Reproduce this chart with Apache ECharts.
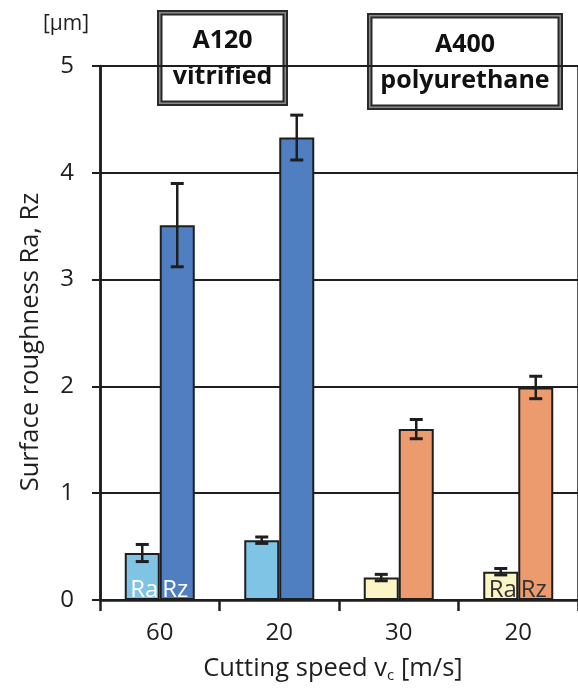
<!DOCTYPE html>
<html>
<head>
<meta charset="utf-8">
<script src="https://cdn.jsdelivr.net/npm/echarts@6/dist/echarts.min.js"></script>
<style>
  html, body { margin: 0; padding: 0; background: #fff; }
  #chart { width: 578px; height: 692px; }
</style>
</head>
<body>
<div id="chart"></div>
<script>
// Cutting speeds for the two grinding wheels
const speeds = ['60', '20', '30', '20'];
const wheels = ['A120\nvitrified', 'A400\npolyurethane'];
const yTicks = [0, 1, 2, 3, 4, 5];

// Surface roughness [µm] with standard deviations
const raValues = [0.44, 0.56, 0.21, 0.265];
const raErrors = [0.08, 0.03, 0.03, 0.03];
const rzValues = [3.51, 4.33, 1.60, 1.99];
const rzErrors = [0.39, 0.21, 0.09, 0.105];

// Colours: first two speeds belong to A120, the other two to A400
const raColors = ['#7fc3e5', '#7fc3e5', '#fbf4c4', '#fbf4c4'];
const rzColors = ['#4f7fc1', '#4f7fc1', '#ec9b6e', '#ec9b6e'];

const FONT = '"Open Sans", sans-serif';
const INK = '#1e1e1e';
const BAR_W = 35;

const chart = echarts.init(document.getElementById('chart'), null, { renderer: 'canvas' });

function barItems(values, colors, labelText, labelColors, align) {
  return values.map((v, i) => {
    const item = { value: v, itemStyle: { color: colors[i] } };
    if (labelColors[i]) {
      item.label = {
        show: true, position: 'insideBottom', distance: 0,
        formatter: labelText, color: labelColors[i],
        fontFamily: FONT, fontSize: 24, offset: [align, 2]
      };
    }
    return item;
  });
}

function errorSeries(values, errors, side) {
  return {
    type: 'custom',
    z: 5,
    data: values.map((v, i) => [i, v - errors[i], v + errors[i]]),
    renderItem: function (params, api) {
      const idx = api.value(0);
      const lo = api.coord([idx, api.value(1)]);
      const hi = api.coord([idx, api.value(2)]);
      const x = lo[0] + side * BAR_W / 2;
      const cap = 6.5;
      const st = { stroke: INK, lineWidth: 2.5 };
      const capSt = { stroke: INK, lineWidth: 3 };
      return {
        type: 'group',
        children: [
          { type: 'line', shape: { x1: x, y1: lo[1], x2: x, y2: hi[1] }, style: st },
          { type: 'line', shape: { x1: x - cap, y1: lo[1], x2: x + cap, y2: lo[1] }, style: capSt },
          { type: 'line', shape: { x1: x - cap, y1: hi[1], x2: x + cap, y2: hi[1] }, style: capSt }
        ]
      };
    }
  };
}

function wheelBox(x, y, w, h, text) {
  return {
    type: 'group', left: x, top: y, z: 20,
    children: [
      { type: 'rect', shape: { x: 0, y: 0, width: w, height: h },
        style: { fill: '#8a8a8a', stroke: '#2a2a2a', lineWidth: 2 } },
      { type: 'rect', shape: { x: 3.5, y: 3.5, width: w - 7, height: h - 7 },
        style: { fill: '#fff', stroke: '#2a2a2a', lineWidth: 2 } },
      { type: 'text', x: w / 2, y: h / 2 + 1,
        style: { text: text, fill: '#111', font: 'bold 25px ' + FONT,
                 align: 'center', verticalAlign: 'middle', lineHeight: 36 } }
    ]
  };
}

const option = {
  animation: false,
  backgroundColor: '#fff',
  grid: { left: 100, top: 66, width: 486, height: 534 },
  xAxis: {
    type: 'category',
    data: speeds,
    axisLine: { lineStyle: { color: INK, width: 2.5 } },
    axisTick: { show: true, length: 11, lineStyle: { color: INK, width: 2.5 } },
    axisLabel: { color: INK, fontFamily: FONT, fontSize: 24, margin: 21 },
    splitLine: {
      show: true,
      interval: function (index) { return index === 2; },
      lineStyle: { color: INK, width: 2.5 }
    }
  },
  yAxis: {
    type: 'value',
    min: 0, max: 5, interval: 1,
    axisLine: { show: true, lineStyle: { color: INK, width: 2.5 } },
    axisTick: { show: true, length: 8, lineStyle: { color: INK, width: 2 } },
    axisLabel: {
      color: INK, fontFamily: FONT, fontSize: 24, margin: 26,
      formatter: v => (yTicks.includes(v) ? String(v) : '')
    },
    splitLine: { show: true, lineStyle: { color: INK, width: 2 } }
  },
  series: [
    {
      name: 'Ra', type: 'bar', barWidth: BAR_W, barGap: '0%',
      itemStyle: { borderColor: INK, borderWidth: 2 },
      data: barItems(raValues, raColors, 'Ra', ['#ffffff', null, null, '#333333'], 2)
    },
    {
      name: 'Rz', type: 'bar', barWidth: BAR_W, barGap: '0%',
      itemStyle: { borderColor: INK, borderWidth: 2 },
      data: barItems(rzValues, rzColors, 'Rz', ['#ffffff', null, null, '#333333'], -2)
    },
    errorSeries(raValues, raErrors, -1),
    errorSeries(rzValues, rzErrors, 1)
  ],
  graphic: [
    wheelBox(157, 10, 129, 94, wheels[0]),
    wheelBox(367, 13, 194, 95, wheels[1]),
    { type: 'text', left: 43, top: 14, z: 20,
      style: { text: '[µm]', fill: INK, font: '21px ' + FONT } },
    { type: 'text', x: 31, y: 342, rotation: Math.PI / 2, z: 20,
      style: { text: 'Surface roughness Ra, Rz', fill: INK, font: '25.5px ' + FONT,
               align: 'center', verticalAlign: 'middle' } },
    { type: 'text', x: 333, y: 669, z: 20,
      style: {
        text: 'Cutting speed v{sub|c} [m/s]', fill: INK, font: '25.5px ' + FONT,
        align: 'center', verticalAlign: 'middle',
        rich: { sub: { fontSize: 15, fontFamily: FONT, fill: INK, padding: [14, 0, 0, 0] } }
      } }
  ]
};

chart.setOption(option);
</script>
</body>
</html>
